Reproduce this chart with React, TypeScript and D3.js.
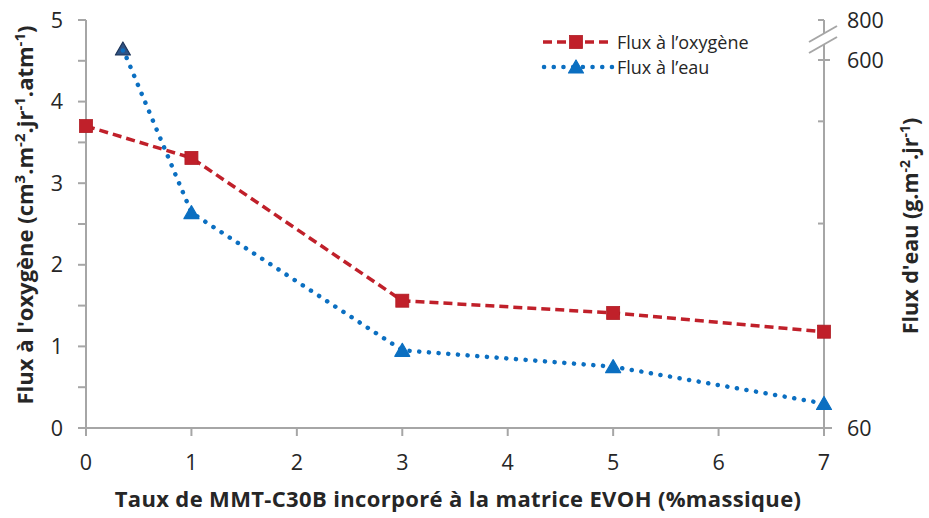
import React from "react";
import * as d3 from "d3";

const xOxy = [0, 1, 3, 5, 7];
const oxyValues = [3.7, 3.31, 1.56, 1.41, 1.18];
const xWater = [0.35, 1, 3, 5, 7];
const waterValues = [655, 376, 174, 150, 96];
const xTicks = [0, 1, 2, 3, 4, 5, 6, 7];
const leftTicks = [0, 1, 2, 3, 4, 5];
const leftMinor = [0.5, 1.5, 2.5, 3.5, 4.5];
const rightInnerTicks = [210, 360, 510];
const rightLabels = [60, 600, 800];

const W = 929;
const H = 518;
const FONT = "'Open Sans', 'Noto Sans', sans-serif";
const AXIS = "#a6a6a6";
const RED = "#c0202a";
const BLUE = "#0b6fc1";
const TXT = "#262626";

const x = d3.scaleLinear().domain([0, 7]).range([86, 824]);
const yL = d3.scaleLinear().domain([0, 5]).range([428, 20]);
const yR = d3.scaleLinear().domain([60, 600, 800]).range([428, 60, 20]);

const Square = ({ cx, cy }: { cx: number; cy: number }) => (
  <rect x={cx - 6.5} y={cy - 6.5} width={13} height={13} fill={RED} stroke="#b01c24" strokeWidth={0.8} />
);
const Tri = ({ cx, cy, dark }: { cx: number; cy: number; dark?: boolean }) => (
  <g>
    <path
      d={`M${cx},${cy - 7} L${cx + 7.5},${cy + 6} L${cx - 7.5},${cy + 6} Z`}
      fill={dark ? "#2f5283" : BLUE}
      stroke={dark ? "#1d3559" : BLUE}
      strokeWidth={1.2}
      strokeLinejoin="round"
    />
    {dark && <circle cx={cx} cy={cy + 1.5} r={2.2} fill={BLUE} />}
  </g>
);

export default function App() {
  const lineO = d3
    .line<number>()
    .x((_, i) => x(xOxy[i]))
    .y((d) => yL(d));
  const lineW = d3
    .line<number>()
    .x((_, i) => x(xWater[i]))
    .y((d) => yR(d));

  const axR = x(7);
  const sup = { fontSize: 15 };
  return (
    <svg
      width={W}
      height={H}
      style={{ position: "fixed", left: 0, top: 0, background: "#fff" }}
      fontFamily={FONT}
    >
      {/* left axis */}
      <line x1={x(0)} x2={x(0)} y1={yL(5)} y2={yL(0)} stroke={AXIS} strokeWidth={2} />
      {leftTicks.concat(leftMinor).map((t) => (
        <line key={"lt" + t} x1={x(0) - 8} x2={x(0)} y1={yL(t)} y2={yL(t)} stroke={AXIS} strokeWidth={2} />
      ))}
      {leftTicks.map((t) => (
        <text key={"ll" + t} x={63} y={yL(t) + 7.5} fontSize={21.5} textAnchor="end" fill={TXT}>
          {t}
        </text>
      ))}
      {/* x axis */}
      <line x1={x(0) - 8} x2={axR + 8} y1={yL(0)} y2={yL(0)} stroke={AXIS} strokeWidth={2} />
      {xTicks.map((t) => (
        <g key={"xt" + t}>
          <line x1={x(t)} x2={x(t)} y1={yL(0)} y2={yL(0) + 8} stroke={AXIS} strokeWidth={2} />
          <text x={x(t)} y={470} fontSize={21.5} textAnchor="middle" fill={TXT}>
            {t}
          </text>
        </g>
      ))}
      {/* right axis */}
      <line x1={axR} x2={axR} y1={yR(800)} y2={yR(60)} stroke={AXIS} strokeWidth={2} />
      {rightInnerTicks.map((t) => (
        <line key={"rt" + t} x1={axR - 6} x2={axR} y1={yR(t)} y2={yR(t)} stroke={AXIS} strokeWidth={2} />
      ))}
      <line x1={axR - 6} x2={axR} y1={yR(800)} y2={yR(800)} stroke={AXIS} strokeWidth={2} />
      <line x1={axR - 6} x2={axR + 6} y1={yR(600)} y2={yR(600)} stroke={AXIS} strokeWidth={2} />
      {rightLabels.map((t) => (
        <text key={"rl" + t} x={847} y={yR(t) + 7.5} fontSize={21.5} textAnchor="start" fill={TXT}>
          {t}
        </text>
      ))}
      {/* break marks */}
      <path d={`M${axR - 15},${42} L${axR + 13},${26} L${axR + 13},${37} L${axR - 15},${53} Z`} fill="#fff" />
      <line x1={axR - 15} y1={42} x2={axR + 13} y2={26} stroke={AXIS} strokeWidth={2} />
      <line x1={axR - 15} y1={53} x2={axR + 13} y2={37} stroke={AXIS} strokeWidth={2} />

      {/* series */}
      <path d={lineO(oxyValues) || ""} fill="none" stroke={RED} strokeWidth={3.5} strokeDasharray="9,5" />
      <path
        d={lineW(waterValues) || ""}
        fill="none"
        stroke={BLUE}
        strokeWidth={4.5}
        strokeDasharray="0.1,9.6"
        strokeLinecap="round"
      />
      {oxyValues.map((v, i) => (
        <Square key={"sq" + i} cx={x(xOxy[i])} cy={yL(v)} />
      ))}
      {waterValues.map((v, i) => (
        <Tri key={"tr" + i} cx={x(xWater[i])} cy={yR(v)} dark={i === 0} />
      ))}

      {/* legend */}
      <line x1={543} x2={612} y1={42} y2={42} stroke={RED} strokeWidth={3.5} strokeDasharray="9,5" />
      <Square cx={576} cy={42} />
      <text x={617} y={48.5} fontSize={18} fill={TXT}>
        Flux à l’oxygène
      </text>
      <line
        x1={544}
        x2={612}
        y1={67}
        y2={67}
        stroke={BLUE}
        strokeWidth={4.5}
        strokeDasharray="0.1,9.6"
        strokeLinecap="round"
      />
      <Tri cx={576} cy={67} />
      <text x={617} y={73.5} fontSize={18} fill={TXT}>
        Flux à l’eau
      </text>

      {/* titles */}
      <text
        x={458}
        y={507}
        fontSize={22}
        fontWeight="bold"
        letterSpacing={0.35}
        textAnchor="middle"
        fill={TXT}
      >
        Taux de MMT-C30B incorporé à la matrice EVOH (%massique)
      </text>
      <text
        transform={`translate(33,215) rotate(-90)`}
        fontSize={22}
        fontWeight="bold"
        textAnchor="middle"
        fill={TXT}
      >
        Flux à l'oxygène (cm
        <tspan dy={-8} {...sup}>3</tspan>
        <tspan dy={8}>.m</tspan>
        <tspan dy={-8} {...sup}>-2</tspan>
        <tspan dy={8}>.jr</tspan>
        <tspan dy={-8} {...sup}>-1</tspan>
        <tspan dy={8}>.atm</tspan>
        <tspan dy={-8} {...sup}>-1</tspan>
        <tspan dy={8}>)</tspan>
      </text>
      <text
        transform={`translate(918,226) rotate(-90)`}
        fontSize={21.5}
        fontWeight="bold"
        textAnchor="middle"
        fill={TXT}
      >
        Flux d'eau (g.m
        <tspan dy={-8} fontSize={14}>-2</tspan>
        <tspan dy={8}>.jr</tspan>
        <tspan dy={-8} fontSize={14}>-1</tspan>
        <tspan dy={8}>)</tspan>
      </text>
    </svg>
  );
}
